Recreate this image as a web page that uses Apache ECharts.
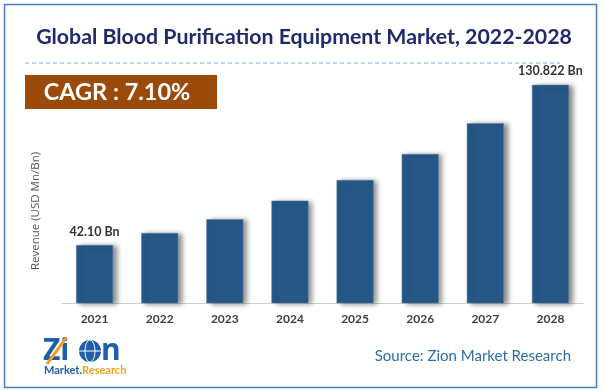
<!DOCTYPE html>
<html>
<head>
<meta charset="utf-8">
<script src="https://cdn.jsdelivr.net/npm/echarts@6/dist/echarts.min.js"></script>
<style>
html,body{margin:0;padding:0;background:#fff;}
#chart{width:605px;height:391px;}
</style>
</head>
<body>
<div id="chart"></div>
<script>
const categories = ['2021','2022','2023','2024','2025','2026','2027','2028'];
const revenue = [42.10, 48.78, 56.4, 66.7, 78.1, 92.5, 109.6, 130.822];
const valueLabels = ['42.10 Bn','','','','','','','130.822 Bn'];
const titleText = 'Global Blood Purification Equipment Market, 2022-2028';
const cagrText = 'CAGR : 7.10%';
const yAxisTitle = 'Revenue (USD Mn/Bn)';
const sourceText = 'Source: Zion Market Research';

const chart = echarts.init(document.getElementById('chart'), null, {renderer:'canvas'});
chart.setOption({
  backgroundColor:'#fff',
  animation:false,
  grid:{left:62, right:22, top:68.3, bottom:88},
  xAxis:{
    type:'category', data:categories,
    axisLine:{show:true, lineStyle:{color:'#d0d0d0', width:1}},
    axisTick:{show:false},
    axisLabel:{color:'#404040', fontFamily:'Lato', fontWeight:'bold', fontSize:12, margin:10}
  },
  yAxis:{
    type:'value', min:10, max:140,
    axisLine:{show:false}, axisTick:{show:false}, axisLabel:{show:false},
    splitLine:{show:false}
  },
  series:[{
    type:'bar', data:revenue, barWidth:37,
    itemStyle:{color:'#275888', borderColor:'#5f86ad', borderWidth:0.5,
      shadowColor:'rgba(0,0,0,0.45)', shadowBlur:5, shadowOffsetX:4, shadowOffsetY:1},
    label:{show:true, position:'top', distance:7,
      formatter:p=>valueLabels[p.dataIndex],
      color:'#333', fontFamily:'Lato', fontWeight:'bold', fontSize:12.5}
  }],
  graphic:[
    {type:'rect', shape:{x:4.5,y:4.5,width:592,height:383}, style:{fill:null, stroke:'#4a7ebb', lineWidth:1.5}, silent:true},
    {type:'text', x:304, y:37, style:{text:titleText, fill:'#1f2a6b', font:'bold 21.3px Lato', textAlign:'center', textVerticalAlign:'middle'}},
    {type:'line', shape:{x1:25,y1:63,x2:560,y2:63}, style:{stroke:'#7ea8dc', lineWidth:1, lineDash:[4,3]}},
    {type:'rect', shape:{x:25,y:75,width:192,height:34}, style:{fill:'#9b4a0a'}},
    {type:'text', x:117, y:92.5, style:{text:cagrText, fill:'#fff', font:'bold 23.5px Lato', textAlign:'center', textVerticalAlign:'middle'}},
    {type:'text', x:36, y:211, rotation:Math.PI/2, style:{text:yAxisTitle, fill:'#555', font:'11.5px "Open Sans"', textAlign:'center', textVerticalAlign:'middle'}},
    {type:'text', x:571, y:356, style:{text:sourceText, fill:'#2e6da4', font:'15px Lato', textAlign:'right', textVerticalAlign:'middle'}},
    {type:'text', x:43, y:351, style:{text:'Zi', fill:'#1f5fa8', font:'bold 30px "Open Sans"', textAlign:'left', textVerticalAlign:'middle'}},
    {type:'circle', shape:{cx:90, cy:351, r:11}, style:{fill:'#1f5fa8'}},
    {type:'ellipse', shape:{cx:90, cy:351, rx:5, ry:11}, style:{fill:null, stroke:'#fff', lineWidth:1}},
    {type:'line', shape:{x1:79,y1:351,x2:101,y2:351}, style:{stroke:'#fff', lineWidth:1}},
    {type:'text', x:101, y:351, style:{text:'n', fill:'#1f5fa8', font:'bold 30px "Open Sans"', textAlign:'left', textVerticalAlign:'middle'}},
    {type:'line', shape:{x1:47,y1:364,x2:66,y2:338}, style:{stroke:'#f0a020', lineWidth:3}},
    {type:'text', x:44, y:370, style:{rich:{a:{fill:'#1f5fa8', font:'bold 11px Lato'}, b:{fill:'#f0a020', font:'bold 11px Lato'}}, text:'{a|Market.}{b|Research}', textAlign:'left', textVerticalAlign:'middle'}}
  ]
});
</script>
</body>
</html>
